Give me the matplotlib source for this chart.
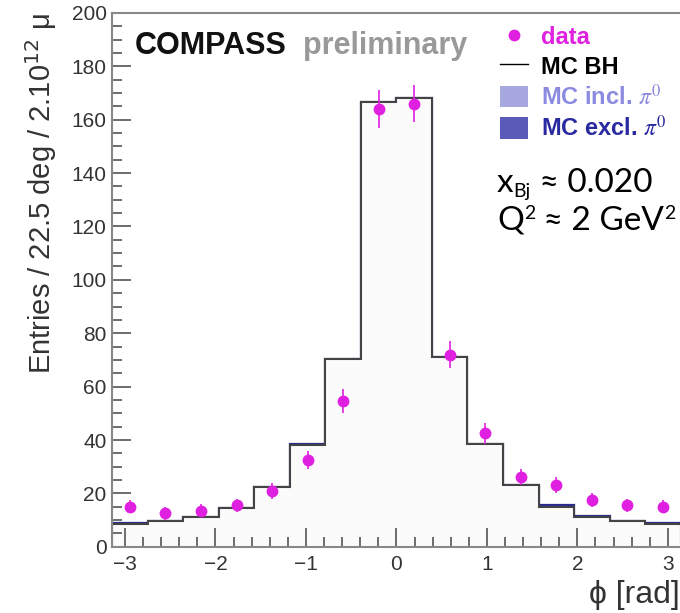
import numpy as np
import matplotlib.pyplot as plt
from matplotlib.lines import Line2D
from matplotlib.patches import Patch
from matplotlib.font_manager import FontProperties
from matplotlib.ticker import MultipleLocator

plt.rcParams['font.family'] = ['Liberation Sans', 'DejaVu Sans']

# 16 bins of 22.5 deg over [-pi, pi]
edges = np.linspace(-np.pi, np.pi, 17)
centers = 0.5 * (edges[:-1] + edges[1:])

data_y = [15, 12.5, 13.5, 15.5, 21, 32.5, 54.5, 164, 166, 72, 42.5, 26, 23, 17.5, 15.5, 15]
data_err = [2.5, 2.5, 2.5, 2.5, 3, 3.5, 4.5, 7, 7, 5, 4, 3, 3, 2.5, 2.5, 2.5]
mc_bh = [8.5, 9.5, 11, 14.5, 22.5, 38, 70.5, 166.5, 168, 71, 38.5, 23, 15, 11, 9.5, 8.5]
mc_excl = [9, 9.8, 11, 14.5, 22.5, 38.5, 70.5, 166.5, 168, 71, 38.5, 23, 15.5, 11.5, 9.8, 9]

fig = plt.figure(figsize=(6.8, 6.13), dpi=100)
ax = fig.add_axes([0.165, 0.108, 0.836, 0.871])

# MC histograms
ax.stairs(mc_excl, edges, color='#2a2a90', lw=1.6)
ax.stairs(mc_bh, edges, fill=True, color='#fbfbfb')
ax.stairs(mc_bh, edges, color='#444444', lw=1.5)

# data
ax.errorbar(centers, data_y, yerr=data_err, fmt='o', color='#e020e0', ms=7.5,
            elinewidth=1.2, capsize=0, zorder=5)

ax.set_xlim(-np.pi, np.pi)
ax.set_ylim(0, 200)
ax.xaxis.set_major_locator(MultipleLocator(1))
ax.xaxis.set_minor_locator(MultipleLocator(0.2))
ax.yaxis.set_major_locator(MultipleLocator(20))
ax.yaxis.set_minor_locator(MultipleLocator(5))
ax.tick_params(which='both', direction='in', colors='#555555', labelcolor='#333333',
               labelsize=15, top=False, right=False)
ax.tick_params(which='major', length=14, width=1.2)
ax.tick_params(which='minor', length=7, width=1.2)
ax.tick_params(axis='x', pad=6)
ax.tick_params(axis='y', pad=4)
ax.set_xticks(range(-3, 4))
ax.set_xticklabels(['\u22123', '\u22122', '\u22121', '0', '1', '2', '3'])
for s in ax.spines.values():
    s.set_color('#888888')
    s.set_linewidth(1.5)
ax.spines['right'].set_visible(False)

ax.set_ylabel('Entries / 22.5 deg / 2.10$^{12}$ \u03bc', fontsize=21, color='#333333', loc='top')
ax.yaxis.set_label_coords(-0.093, 1.0)
ax.set_xlabel('\u03d5 [rad]', fontsize=23, color='#333333', loc='right')
ax.xaxis.set_label_coords(0.999, -0.062)

fig.text(0.198, 0.912, 'COMPASS', fontsize=22, fontweight='bold', color='#111111')
fig.text(0.446, 0.912, 'preliminary', fontsize=22, fontweight='bold', color='#999999')

handles = [Line2D([], [], marker='o', ls='none', color='#e020e0', ms=7.5),
           Line2D([], [], color='black', lw=1),
           Patch(facecolor='#a8a8e0', edgecolor='none'),
           Patch(facecolor='#5a5ab8', edgecolor='none')]
labels = ['data', 'MC BH', 'MC incl. $\\pi^0$', 'MC excl. $\\pi^0$']
fig.legend(handles, labels, loc='upper left', bbox_to_anchor=(0.704, 0.993),
           frameon=False,
           prop=FontProperties(family=['Liberation Sans'], weight='bold', size=17,
                               math_fontfamily='stix'),
           labelcolor=['#e020e0', 'black', '#8a8ae0', '#2a2aa0'],
           handlelength=1.2, handleheight=1.0, handletextpad=0.55, labelspacing=0.24)


# kinematics text, written piece by piece (sub/superscripts)
def write_pieces(x, y, pieces):
    renderer = fig.canvas.get_renderer()
    for s, size, dy in pieces:
        t = fig.text(x, y + dy / 613, s, fontsize=size, va='baseline',
                     family=['Lato', 'DejaVu Sans'], color='black')
        bb = t.get_window_extent(renderer)
        x = bb.x1 / fig.bbox.width


write_pieces(0.731, 0.687, [('x', 24, 0), ('Bj', 14, -5), (' \u2248 0.020', 24, 0)])
write_pieces(0.731, 0.625, [('Q', 24, 0), ('2', 14, 11), (' \u2248 2 GeV', 24, 0), ('2', 14, 11)])

fig.savefig('out.png', dpi=100)
